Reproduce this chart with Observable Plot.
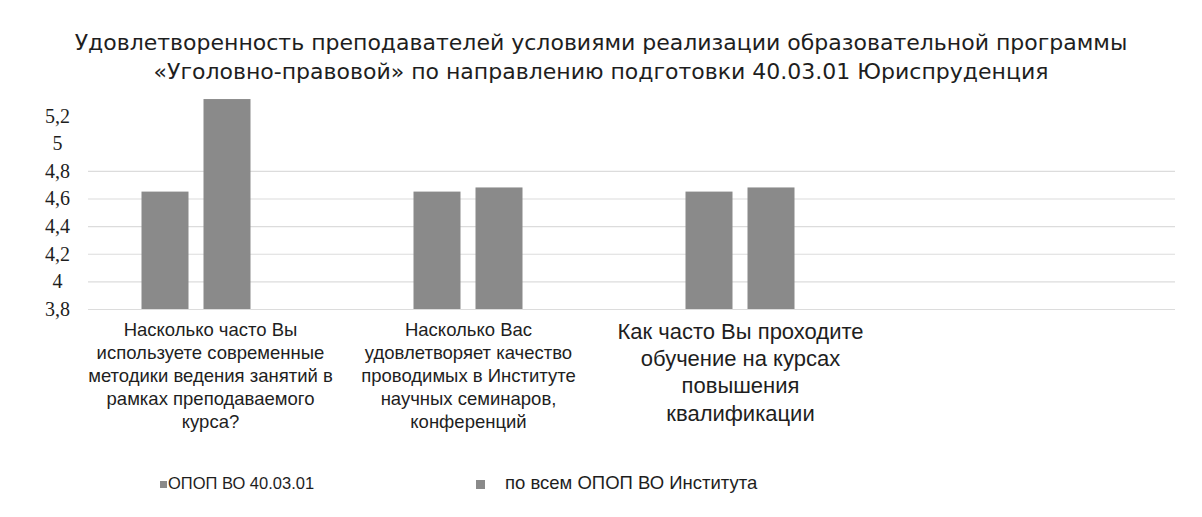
<!DOCTYPE html>
<html><head><meta charset="utf-8">
<script src="https://cdn.jsdelivr.net/npm/d3@7"></script>
<script src="https://cdn.jsdelivr.net/npm/@observablehq/plot@0.6"></script>
<style>
body{margin:0;background:#fff;font-family:"Liberation Sans",sans-serif;width:1202px;height:517px;overflow:hidden;position:relative;color:#1e1e1e}
#title{position:absolute;top:28px;left:0;width:1202px;text-align:center;font-family:"DejaVu Sans";font-size:22px;line-height:29px}
#chart{position:absolute;top:86px;left:0}
.leg{position:absolute;top:472px;line-height:22px;white-space:nowrap}
.sw{display:inline-block;background:#8a8a8a;vertical-align:middle}
</style></head>
<body>
<div id="title">Удовлетворенность преподавателей условиями реализации образовательной программы<br>«Уголовно-правовой» по направлению подготовки 40.03.01 Юриспруденция</div>
<div id="chart"></div>
<div id="legend"></div>
<script>
const categories = [
  "Насколько часто Вы\nиспользуете современные\nметодики ведения занятий в\nрамках преподаваемого\nкурса?",
  "Насколько Вас\nудовлетворяет качество\nпроводимых в Институте\nнаучных семинаров,\nконференций",
  "Как часто Вы проходите\nобучение на курсах\nповышения\nквалификации"
];
const seriesNames = ["ОПОП ВО 40.03.01", "по всем ОПОП ВО Института"];
const programValues = [4.65, 4.65, 4.65];
const instituteValues = [5.32, 4.68, 4.68];
const yTicks = [3.8, 4, 4.2, 4.4, 4.6, 4.8, 5, 5.2];
const gridValues = [3.8, 4, 4.2, 4.4, 4.6, 4.8];
const yDomain = [3.8, 5.4];
const labelSizes = [18.5, 18.5, 22];
const labelShift = [14, 0, 0];
const barColor = "#8a8a8a";

const rows = categories.flatMap((c, i) => [
  {cat: c, series: seriesNames[0], value: programValues[i]},
  {cat: c, series: seriesNames[1], value: instituteValues[i]}
]);
const xDomain = [...categories, " "];

const chart = Plot.plot({
  width: 1202,
  height: 348,
  marginTop: 2,
  marginBottom: 125,
  marginLeft: 60,
  marginRight: 54,
  style: {fontFamily: "'Liberation Sans', sans-serif", background: "transparent", overflow: "visible"},
  x: {domain: xDomain, padding: 0, axis: null},
  y: {domain: yDomain, axis: null},
  marks: [
    Plot.ruleY(gridValues, {stroke: "#dcdcdc", strokeWidth: 1.2, insetLeft: 28, insetRight: -27}),
    Plot.barY(rows.filter(d => d.series === seriesNames[0]), {x: "cat", y1: yDomain[0], y2: "value", fill: barColor, insetLeft: 112.5, insetRight: 112.5, dx: -31}),
    Plot.barY(rows.filter(d => d.series === seriesNames[1]), {x: "cat", y1: yDomain[0], y2: "value", fill: barColor, insetLeft: 112.5, insetRight: 112.5, dx: 31}),
    Plot.axisY(yTicks, {label: null, tickSize: 0, tickPadding: 3, textAnchor: "middle", fontSize: 20, fontFamily: "'Liberation Serif', serif", fill: "#1e1e1e", tickFormat: d => String(d).replace(".", ",")}),
    ...categories.map((c, i) => Plot.text([c], {x: d => d, text: d => d, frameAnchor: "bottom", lineAnchor: "top", dy: 10, dx: labelShift[i], fontSize: labelSizes[i], lineHeight: 1.24, fill: "#1e1e1e"}))
  ]
});
document.getElementById("chart").appendChild(chart);

const legend = document.getElementById("legend");
legend.innerHTML =
  `<div class="leg" style="left:160px;font-size:16.5px"><span class="sw" style="width:7px;height:7px;margin-right:1px"></span>${seriesNames[0]}</div>` +
  `<div class="leg" style="left:476px;font-size:18.5px"><span class="sw" style="width:9px;height:9px;margin-right:20px"></span>${seriesNames[1]}</div>`;
</script>
</body></html>
